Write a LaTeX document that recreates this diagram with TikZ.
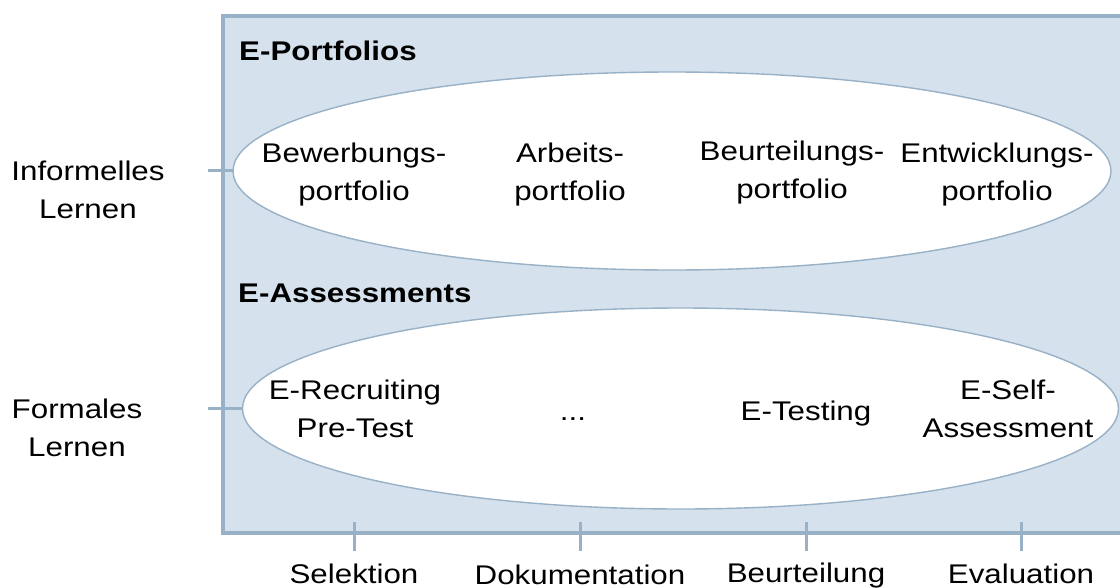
\documentclass[tikz,border=0pt]{standalone}
\usepackage{fontspec}
\setmainfont{Liberation Sans}[FakeStretch=1.16]
\definecolor{frame}{HTML}{98B1C7}
\definecolor{panel}{HTML}{D5E1EC}
\begin{document}
\begin{tikzpicture}[x=1pt,y=-1pt,
  lbl/.style={font=\fontsize{27}{37.5}\selectfont, align=center, anchor=base, inner sep=0pt},
  head/.style={font=\fontsize{27}{37}\selectfont\bfseries, anchor=base west, inner sep=0pt},
  oval/.style={draw=frame, line width=1.4pt, fill=white},
  tick/.style={draw=frame, line width=3pt}]
\useasboundingbox (0,0) rectangle (1120,587);
\begin{scope}
\clip (0,0) rectangle (1120,587);
\draw[draw=frame, fill=panel, line width=3.5pt] (223,16) rectangle (1140,533);
\end{scope}
\draw[oval] (672,171) ellipse [x radius=439, y radius=99];
\draw[oval] (680.5,408.5) ellipse [x radius=438, y radius=100.5];
\node[head] (ep) at (239,60) {E-Portfolios};
\node[head] (ea) at (238,302) {E-Assessments};
% left ticks
\coordinate (t1a) at (208,170); \coordinate (t1b) at (234,170);
\coordinate (t2a) at (208,408); \coordinate (t2b) at (243,408);
\draw[tick] (t1a) -- (t1b);
\draw[tick] (t2a) -- (t2b);
\node[lbl] (inf) at (88,218) {Informelles\\Lernen};
\node[lbl] (for) at (77,456) {Formales\\Lernen};
% portfolio items
\node[lbl] (p1) at (354,200) {Bewerbungs-\\portfolio};
\node[lbl] (p2) at (570,200) {Arbeits-\\portfolio};
\node[lbl] (p3) at (792,198) {Beurteilungs-\\portfolio};
\node[lbl] (p4) at (997,200) {Entwicklungs-\\portfolio};
% assessment items
\node[lbl] (a1) at (355,437) {E-Recruiting\\Pre-Test};
\node[lbl] (a2) at (573,420) {...};
\node[lbl] (a3) at (806,420) {E-Testing};
\node[lbl] (a4) at (1008,437) {E-Self-\\Assessment};
% bottom ticks
\foreach \i/\xx in {1/354,2/580,3/806,4/1021}{
  \coordinate (b\i a) at (\xx,522);
  \coordinate (b\i b) at (\xx,551);
  \draw[tick] (b\i a) -- (b\i b);
}
\node[lbl] (s1) at (354,583) {Selektion};
\node[lbl] (s2) at (580,584) {Dokumentation};
\node[lbl] (s3) at (806,582) {Beurteilung};
\node[lbl] (s4) at (1021,583) {Evaluation};
\end{tikzpicture}
\end{document}
